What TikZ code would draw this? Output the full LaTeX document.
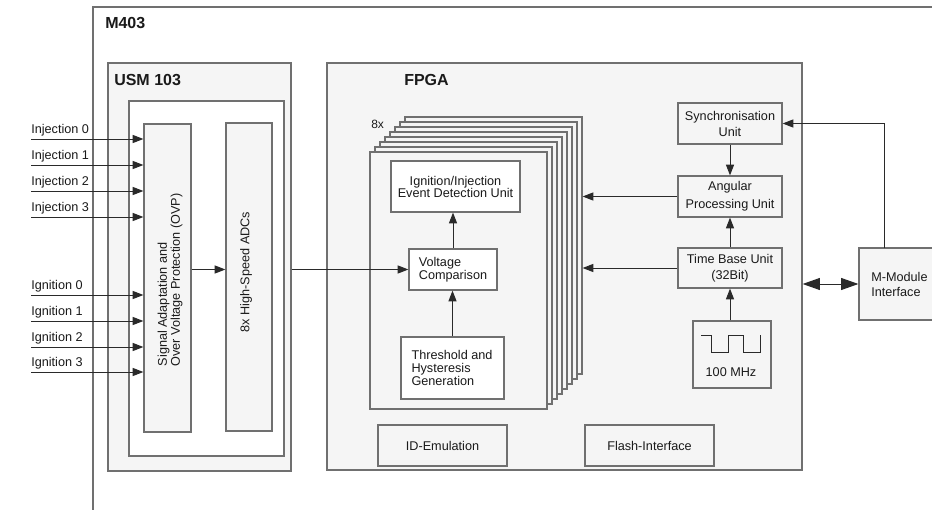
\documentclass[tikz,border=0pt]{standalone}
\usepackage{fontspec}
\setmainfont{Liberation Sans}
\usetikzlibrary{arrows.meta,fit}
\definecolor{bord}{HTML}{707070}
\definecolor{fillg}{HTML}{F5F5F5}
\definecolor{ink}{HTML}{1A1A1A}
\definecolor{wire}{HTML}{2A2A2A}
\begin{document}
\begin{tikzpicture}[x=0.75pt,y=-0.75pt,
  gbox/.style={draw=bord, line width=0.9pt, fill=fillg, inner sep=0pt},
  wbox/.style={gbox, fill=white},
  txt/.style={text=ink, inner sep=0pt, align=center, font=\fontsize{9.5}{12}\selectfont},
  title/.style={font=\fontsize{12}{14}\selectfont\bfseries, text=ink, inner sep=0pt, anchor=base west},
  lbl/.style={font=\fontsize{9.5}{12}\selectfont, text=ink, inner sep=0pt, anchor=base west},
  rottxt/.style={font=\fontsize{9.5}{9.75}\selectfont, text=ink, inner sep=0pt, rotate=90, align=left},
  arr/.style={draw=wire, line width=0.75pt, -{Triangle[length=8pt,width=6pt]}},
  darr/.style={draw=wire, line width=0.75pt, {Triangle[length=13pt,width=9pt]}-{Triangle[length=13pt,width=9pt]}},
]
\useasboundingbox (0,0) rectangle (932,510);
\clip (0,0) rectangle (932,510);
\fill[white] (0,0) rectangle (932,510);

% M403 frame
\draw[draw=bord, line width=1.1pt] (93,510) -- (93,7) -- (933,7);
\node[title] (tm403) at (105,29) {M403};

% USM 103
\node[gbox, fit={(108,63) (291,471)}] (usm) {};
\node[title] (tusm) at (114,86) {USM 103};
\node[wbox, fit={(129,101) (284,456)}] (usmin) {};
\node[gbox, fit={(144,124) (191,432)}] (sig) {};
\node[gbox, fit={(226,123) (272,431)}] (adc) {};
\node[rottxt] (sigtxt) at (170,280) {Signal Adaptation and\\Over Voltage Protection (OVP)};
\node[rottxt] (adctxt) at (246,272) {8x High-Speed ADCs};

% FPGA
\node[gbox, fit={(327,63) (802,470)}] (fpga) {};
\node[title] (tfpga) at (404,85) {FPGA};

% stacked channel pages
\foreach \k in {7,6,...,1} {
  \node[gbox, fit={({370+5*\k},{152-5*\k}) ({547+5*\k},{409-5*\k})}] (p\k) {};
}
\node[gbox, fit={(370,152) (547,409)}] (p0) {};
\node[lbl, font=\fontsize{9}{11}\selectfont] (t8x) at (371,128) {8x};

\node[wbox, fit={(391,161) (520,212)}] (ev) {};
\node[txt, font=\fontsize{9.5}{9}\selectfont] (evtxt) at (ev) {Ignition/Injection\\Event Detection Unit};
\node[wbox, fit={(409,249) (497,290)}] (vc) {};
\node[txt, align=left, font=\fontsize{9.5}{9.75}\selectfont] (vctxt) at (vc) {Voltage\\Comparison};
\node[wbox, fit={(401,337) (504,399)}] (th) {};
\node[txt, align=left, font=\fontsize{9.5}{9.5}\selectfont] (thtxt) at (452,368) {Threshold and\\Hysteresis\\Generation};

\node[gbox, fit={(378,425) (507,466)}] (idem) {};
\node[txt] (idemtxt) at (idem) {ID-Emulation};
\node[gbox, fit={(585,425) (714,466)}] (flash) {};
\node[txt] (flashtxt) at (flash) {Flash-Interface};

% right column
\node[gbox, fit={(678,103) (782,144)}] (sync) {};
\node[txt, font=\fontsize{9.5}{12}\selectfont] (synctxt) at (sync) {Synchronisation\\Unit};
\node[gbox, fit={(678,176) (782,217)}] (ang) {};
\node[txt, font=\fontsize{9.5}{13.5}\selectfont] (angtxt) at (ang) {Angular\\Processing Unit};
\node[gbox, fit={(678,248) (782,288)}] (tb) {};
\node[txt, font=\fontsize{9.5}{12}\selectfont] (tbtxt) at (tb) {Time Base Unit\\(32Bit)};
\node[gbox, fit={(693,321) (771,388)}] (clk) {};
\draw[draw=wire, line width=0.75pt] (701,335) -- (711,335) -- (711,352) -- (728,352) -- (728,335) -- (743,335) -- (743,352) -- (760,352) -- (760,335);
\node[txt] (clktxt) at (731,372) {100 MHz};

\node[gbox, fit={(859,248) (945,320)}] (mm) {};
\node[txt, anchor=west, align=left, font=\fontsize{9.5}{11.25}\selectfont] (mmtxt) at (871,284) {M-Module\\Interface};

% inputs
\foreach \n/\y/\t in {inj0/139/Injection 0, inj1/165/Injection 1, inj2/191/Injection 2, inj3/217/Injection 3,
                      ign0/295/Ignition 0, ign1/321/Ignition 1, ign2/347/Ignition 2, ign3/372/Ignition 3} {
  \node[lbl] (l\n) at (31,{\y-6}) {\t};
  \coordinate (c\n) at (31,\y);
  \draw[arr] (c\n) -- (c\n -| sig.west);
}

% connectors
\draw[arr] (sig.east |- vc) -- (adc.west |- vc);
\draw[arr] (usm.east |- vc) -- (vc.west);
\draw[arr] (vc.north) -- (vc.north |- ev.south);
\draw[arr] (th.north) -- (th.north |- vc.south);
\draw[arr] (sync.south) -- (ang.north);
\draw[arr] (tb.north) -- (ang.south);
\draw[arr] (tb.south |- clk.north) -- (tb.south);
\draw[arr] (ang.west) -- (ang.west -| p7.east);
\draw[arr] (tb.west) -- (tb.west -| p7.east);
\coordinate (mmtop) at (884,248);
\draw[arr] (mmtop) |- (sync.east);
\draw[darr] (fpga.east |- mm) -- (mm.west);
\end{tikzpicture}
\end{document}
